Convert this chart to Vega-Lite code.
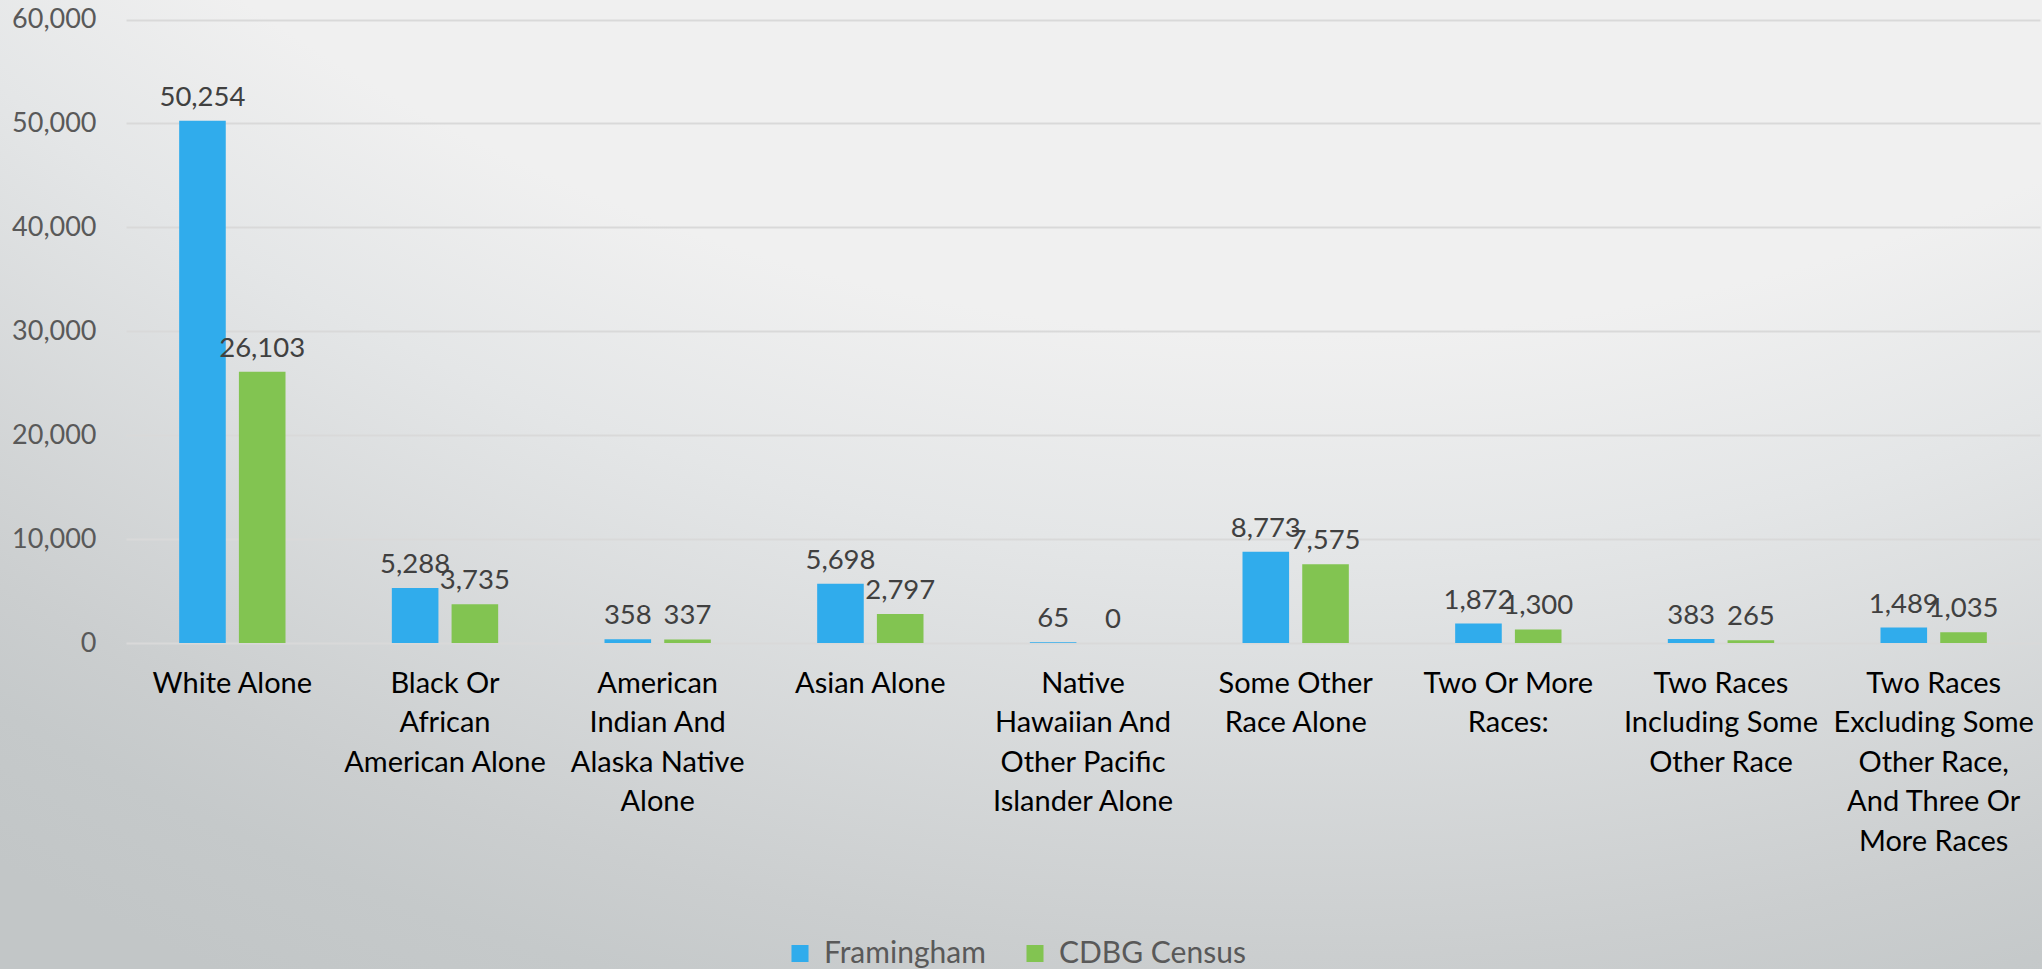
{
  "$schema": "https://vega.github.io/schema/vega-lite/v6.json",
  "width": 2042,
  "height": 969,
  "autosize": {"type": "none"},
  "padding": 0,
  "background": "#c8cbcc",
  "config": {
    "font": "Lato",
    "view": {
      "stroke": null,
      "fill": {"gradient": "radial", "x1": 0.637, "y1": -0.472, "r1": 0, "x2": 0.637, "y2": -0.472, "r2": 1.322, "stops": [{"offset": 0, "color": "#f0f0f0"}, {"offset": 0.68, "color": "#f0f0f0"}, {"offset": 0.76, "color": "#e4e6e7"}, {"offset": 0.91, "color": "#cbcecf"}, {"offset": 0.95, "color": "#c5c9ca"}, {"offset": 1, "color": "#c2c6c7"}]}
    },
    "axis": {"labelFont": "Lato"},
    "legend": {"labelFont": "Lato"}
  },
  "data": {
    "values": [
      {"category": "White Alone", "series": "Framingham", "value": 50254},
      {"category": "White Alone", "series": "CDBG Census", "value": 26103},
      {"category": "Black Or|African|American Alone", "series": "Framingham", "value": 5288},
      {"category": "Black Or|African|American Alone", "series": "CDBG Census", "value": 3735},
      {"category": "American|Indian And|Alaska Native|Alone", "series": "Framingham", "value": 358},
      {"category": "American|Indian And|Alaska Native|Alone", "series": "CDBG Census", "value": 337},
      {"category": "Asian Alone", "series": "Framingham", "value": 5698},
      {"category": "Asian Alone", "series": "CDBG Census", "value": 2797},
      {"category": "Native|Hawaiian And|Other Pacific|Islander Alone", "series": "Framingham", "value": 65},
      {"category": "Native|Hawaiian And|Other Pacific|Islander Alone", "series": "CDBG Census", "value": 0},
      {"category": "Some Other|Race Alone", "series": "Framingham", "value": 8773},
      {"category": "Some Other|Race Alone", "series": "CDBG Census", "value": 7575},
      {"category": "Two Or More|Races:", "series": "Framingham", "value": 1872},
      {"category": "Two Or More|Races:", "series": "CDBG Census", "value": 1300},
      {"category": "Two Races|Including Some|Other Race", "series": "Framingham", "value": 383},
      {"category": "Two Races|Including Some|Other Race", "series": "CDBG Census", "value": 265},
      {"category": "Two Races|Excluding Some|Other Race,|And Three Or|More Races", "series": "Framingham", "value": 1489},
      {"category": "Two Races|Excluding Some|Other Race,|And Three Or|More Races", "series": "CDBG Census", "value": 1035}
    ]
  },
  "encoding": {
    "x": {
      "field": "category",
      "type": "nominal",
      "sort": null,
      "scale": {"range": [126, 2040], "paddingInner": 0.5, "paddingOuter": 0.25},
      "axis": {
        "title": null,
        "offset": -326,
        "labelAngle": 0,
        "labelExpr": "split(datum.label, '|')",
        "labelFontSize": 29,
        "labelColor": "#000000",
        "labelLineHeight": 39.5,
        "labelBaseline": "top",
        "labelPadding": 26,
        "labelLimit": 0,
        "labelOverlap": false,
        "ticks": false,
        "domain": false
      }
    },
    "xOffset": {
      "field": "series",
      "sort": ["Framingham", "CDBG Census"],
      "scale": {"paddingInner": 0.22, "paddingOuter": 0}
    },
    "y": {
      "field": "value",
      "type": "quantitative",
      "scale": {"domain": [0, 60000], "nice": false, "range": [643, 19.5]},
      "axis": {
        "title": null,
        "offset": -98,
        "values": [0, 10000, 20000, 30000, 40000, 50000, 60000],
        "labelExpr": "format(datum.value, ',')",
        "labelFontSize": 27,
        "labelColor": "#595959",
        "labelPadding": 2,
        "ticks": false,
        "domain": false,
        "gridColor": "#d9d9d9",
        "gridWidth": 2
      }
    }
  },
  "layer": [
    {
      "mark": {"type": "bar"},
      "encoding": {
        "color": {
          "field": "series",
          "type": "nominal",
          "sort": ["Framingham", "CDBG Census"],
          "scale": {"domain": ["Framingham", "CDBG Census"], "range": ["#30acec", "#82c451"]},
          "legend": {
            "title": null,
            "orient": "none",
            "direction": "horizontal",
            "legendX": 785,
            "legendY": 938.5,
            "padding": 0,
            "symbolType": "square",
            "symbolSize": 290,
            "symbolStrokeWidth": 0,
            "symbolOpacity": 1,
            "labelFontSize": 30,
            "labelColor": "#595959",
            "labelOffset": 9,
            "columnPadding": 34,
            "labelLimit": 0
          }
        }
      }
    },
    {
      "mark": {"type": "text", "baseline": "alphabetic", "dy": -15, "fontSize": 27.5, "color": "#404040"},
      "encoding": {
        "text": {"field": "value", "type": "quantitative", "format": ","}
      }
    }
  ]
}
